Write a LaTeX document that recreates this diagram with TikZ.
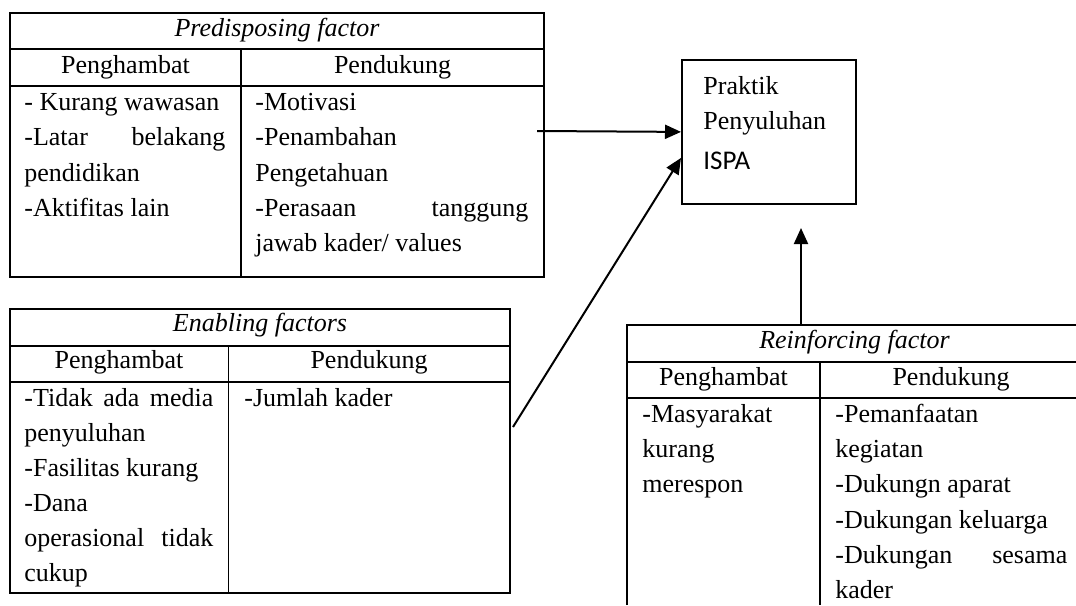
\documentclass[tikz,border=0pt]{standalone}
\usepackage{fontspec}
\setmainfont{Liberation Serif}
\newfontfamily\calfont{Carlito}
\usetikzlibrary{arrows.meta}
\tikzset{
  tx/.style={font=\fontsize{13}{15}\selectfont, inner sep=0pt, anchor=base west},
  txc/.style={tx, anchor=base},
  ttl/.style={txc, font=\fontsize{13}{15}\selectfont\itshape},
  frame/.style={line width=0.9pt, black},
  conn/.style={line width=1pt, black, -{Triangle[length=8pt,width=7pt]}},
}
\newcommand{\jline}[3]{\hbox to #1{#2\hfill #3}}
\begin{document}
\begin{tikzpicture}[x=0.5pt,y=-0.5pt]
\useasboundingbox (0,0) rectangle (1076,605);
\fill[white] (0,0) rectangle (1076,605);

% ---------- Predisposing factor ----------
\draw[frame] (10,13) rectangle (544,277);
\draw[frame] (10,49) -- (544,49);
\draw[frame] (10,86) -- (544,86);
\draw[frame] (241,49) -- (241,277);
\node[ttl] (pretitle) at (277,36.7) {Predisposing factor};
\node[txc] (preh) at (125.5,73.3) {Penghambat};
\node[txc] (prep) at (392.5,73.3) {Pendukung};
\node[tx] (preh1) at (24,110) {- Kurang wawasan};
\node[tx] (preh2) at (24,145.5) {\jline{100.5pt}{-Latar}{belakang}};
\node[tx] (preh3) at (24,181) {pendidikan};
\node[tx] (preh4) at (24,216) {-Aktifitas lain};
\node[tx] (prep1) at (255,110) {-Motivasi};
\node[tx] (prep2) at (255,145.5) {-Penambahan};
\node[tx] (prep3) at (255,181) {Pengetahuan};
\node[tx] (prep4) at (255,216) {\jline{136.5pt}{-Perasaan}{tanggung}};
\node[tx] (prep5) at (255,251) {jawab kader/ values};

% ---------- Enabling factors ----------
\draw[frame] (10,309) rectangle (510,593);
\draw[frame] (10,346) -- (510,346);
\draw[frame] (10,382) -- (510,382);
\draw[frame] (228.5,346) -- (228.5,593);
\node[ttl] (entitle) at (260,331.7) {Enabling factors};
\node[txc] (enh) at (119,368.3) {Penghambat};
\node[txc] (enp) at (369,368.3) {Pendukung};
\node[tx] (enh1) at (24,406.7) {\jline{94.5pt}{-Tidak\hfill ada}{media}};
\node[tx] (enh2) at (24,441.7) {penyuluhan};
\node[tx] (enh3) at (24,476.7) {-Fasilitas kurang};
\node[tx] (enh4) at (24,511.7) {-Dana};
\node[tx] (enh5) at (24,546.7) {\jline{94.5pt}{operasional}{tidak}};
\node[tx] (enh6) at (24,581.7) {cukup};
\node[tx] (enp1) at (244,406.7) {-Jumlah kader};

% ---------- Reinforcing factor ----------
\draw[frame] (627,605) -- (627,325) -- (1076,325);
\draw[frame] (627,362) -- (1076,362);
\draw[frame] (627,398) -- (1076,398);
\draw[frame] (820,362) -- (820,605);
\node[ttl] (retitle) at (854.5,348.3) {Reinforcing factor};
\node[txc] (reh) at (723.5,385) {Penghambat};
\node[txc] (rep) at (951,385) {Pendukung};
\node[tx] (reh1) at (642,422) {-Masyarakat};
\node[tx] (reh2) at (642,457) {kurang};
\node[tx] (reh3) at (642,492.5) {merespon};
\node[tx] (rep1) at (835,422) {-Pemanfaatan};
\node[tx] (rep2) at (835,457) {kegiatan};
\node[tx] (rep3) at (835,492.5) {-Dukungn aparat};
\node[tx] (rep4) at (835,528) {-Dukungan keluarga};
\node[tx] (rep5) at (835,563) {\jline{116pt}{-Dukungan}{sesama}};
\node[tx] (rep6) at (835,598) {kader};

% ---------- Praktik Penyuluhan ISPA ----------
\node[draw, line width=0.9pt, minimum width=87pt, minimum height=72pt,
      inner sep=0pt, anchor=north west] (praktik) at (681,59) {};
\node[tx] (pr1) at (703,94) {Praktik};
\node[tx] (pr2) at (703,129.3) {Penyuluhan};
\node[tx, font=\fontsize{13.5}{15}\selectfont\calfont] (pr3) at (703,169) {ISPA};

% ---------- connectors ----------
\coordinate (preout) at (537,131);
\coordinate (enout) at (513,427);
\coordinate (reintop) at (801,325);
\coordinate (uptip) at (801,228);
\draw[conn] (preout) -- (praktik.west);
\draw[conn] (enout) -- ([yshift=-13pt]praktik.west);
\draw[conn] (reintop) -- (uptip);
\end{tikzpicture}
\end{document}
